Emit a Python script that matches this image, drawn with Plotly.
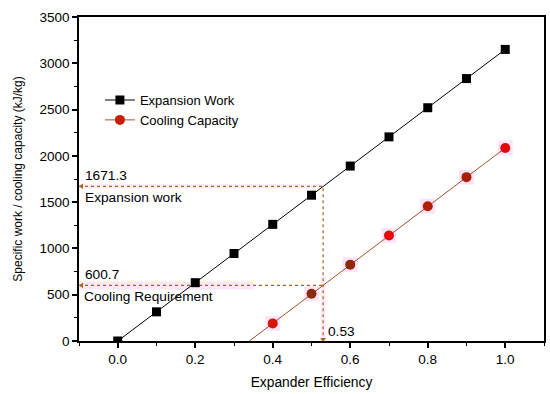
import plotly.graph_objects as go

efficiency = [0.0, 0.1, 0.2, 0.3, 0.4, 0.5, 0.6, 0.7, 0.8, 0.9, 1.0]
expansion_work = [0, 315, 630, 945, 1260, 1575, 1890, 2205, 2520, 2835, 3150]

cool_eff = [0.3, 0.4, 0.5, 0.6, 0.7, 0.8, 0.9, 1.0]
cooling_capacity = [-125, 190, 510, 825, 1140, 1455, 1770, 2085]
cool_colors = ["#c81e05", "#d81505", "#8a2a08", "#902808", "#e60a0a", "#b01e06", "#a82006", "#e00a0a"]

work_level = 1671.3
cooling_req = 600.7
eff_req = 0.53

FONT = "Liberation Sans, Arial, sans-serif"
DOT = "#b0601a"

fig = go.Figure()

# pink highlight bands
fig.add_trace(go.Scatter(x=[-0.1, 0.35], y=[cooling_req, cooling_req], mode="lines",
                         line=dict(color="rgba(245,170,230,0.28)", width=8), showlegend=False, hoverinfo="skip"))
fig.add_trace(go.Scatter(x=[-0.1, eff_req], y=[work_level, work_level], mode="lines",
                         line=dict(color="rgba(245,170,230,0.18)", width=5), showlegend=False, hoverinfo="skip"))
fig.add_trace(go.Scatter(x=[eff_req, eff_req], y=[0, 700], mode="lines",
                         line=dict(color="rgba(245,170,230,0.22)", width=5), showlegend=False, hoverinfo="skip"))

# dotted guide lines
fig.add_trace(go.Scatter(x=[-0.1, eff_req, eff_req], y=[work_level, work_level, 0], mode="lines",
                         line=dict(color=DOT, width=1.2, dash="dot"), showlegend=False, hoverinfo="skip"))
fig.add_trace(go.Scatter(x=[-0.1, eff_req], y=[cooling_req, cooling_req], mode="lines",
                         line=dict(color=DOT, width=1.2, dash="dot"), showlegend=False, hoverinfo="skip"))
# arrowheads
fig.add_trace(go.Scatter(x=[-0.093, -0.093], y=[work_level, cooling_req], mode="markers",
                         marker=dict(symbol="triangle-left", size=5, color=DOT),
                         cliponaxis=False, showlegend=False, hoverinfo="skip"))
fig.add_trace(go.Scatter(x=[eff_req], y=[20], mode="markers",
                         marker=dict(symbol="triangle-down", size=5, color=DOT),
                         cliponaxis=False, showlegend=False, hoverinfo="skip"))

# halo behind cooling markers
fig.add_trace(go.Scatter(x=cool_eff, y=cooling_capacity, mode="markers",
                         marker=dict(symbol="square", size=15, color="rgba(248,175,235,0.35)"),
                         showlegend=False, hoverinfo="skip"))

fig.add_trace(go.Scatter(x=efficiency, y=expansion_work, mode="lines+markers", name="Expansion Work",
                         line=dict(color="black", width=1),
                         marker=dict(symbol="square", size=9, color="black")))
fig.add_trace(go.Scatter(x=cool_eff, y=cooling_capacity, mode="lines+markers", name="Cooling Capacity",
                         line=dict(color="#a0522d", width=1),
                         marker=dict(symbol="circle", size=10, color=cool_colors)))

annots = [
    dict(x=-0.09, y=work_level, text="1671.3", yshift=11),
    dict(x=-0.09, y=work_level, text="Expansion work", yshift=-11),
    dict(x=-0.09, y=cooling_req, text="600.7", yshift=11),
    dict(x=-0.1, y=cooling_req, text="Cooling Requirement", xshift=3, yshift=-11),
    dict(x=eff_req, y=0, text="0.53", xshift=3, yshift=10),
]
for a in annots:
    fig.add_annotation(x=a["x"], y=a["y"], text=a["text"], showarrow=False,
                       xanchor="left", yanchor="middle",
                       xshift=a.get("xshift", 0), yshift=a["yshift"],
                       font=dict(family=FONT, size=13.7, color="black"))

fig.update_layout(
    width=550, height=394,
    margin=dict(l=79, r=6, t=17, b=53),
    paper_bgcolor="white", plot_bgcolor="white",
    font=dict(family=FONT, size=13, color="black"),
    legend=dict(x=0.045, y=0.79, xanchor="left", yanchor="top", bgcolor="rgba(0,0,0,0)",
                font=dict(family=FONT, size=13), tracegroupgap=0, itemwidth=30),
    showlegend=True,
)
fig.update_xaxes(range=[-0.1, 1.1], tickvals=[0.0, 0.2, 0.4, 0.6, 0.8, 1.0],
                 ticktext=["0.0", "0.2", "0.4", "0.6", "0.8", "1.0"], automargin=False,
                 tickfont=dict(family=FONT, size=13.5),
                 showgrid=False, zeroline=False, showline=True, linecolor="black", linewidth=1.5,
                 mirror=True, ticks="outside", ticklen=5, tickwidth=1.5, tickcolor="black",
                 minor=dict(dtick=0.1, tick0=0, ticks="outside", ticklen=3, tickwidth=1.2, tickcolor="black"),
                 title=dict(text="Expander Efficiency", font=dict(family=FONT, size=13.8), standoff=11))
fig.update_yaxes(range=[0, 3500], dtick=500, automargin=False,
                 tickfont=dict(family=FONT, size=13.5),
                 showgrid=False, zeroline=False, showline=True, linecolor="black", linewidth=1.5,
                 mirror=True, ticks="outside", ticklen=5, tickwidth=1.5, tickcolor="black",
                 minor=dict(dtick=250, ticks="outside", ticklen=3, tickwidth=1.2, tickcolor="black"),
                 title=dict(text="Specific work / cooling capacity (kJ/kg)", font=dict(family=FONT, size=12), standoff=14))

fig.write_html("out.html", config={"displayModeBar": False},
               post_script="document.body.style.margin='0';")
